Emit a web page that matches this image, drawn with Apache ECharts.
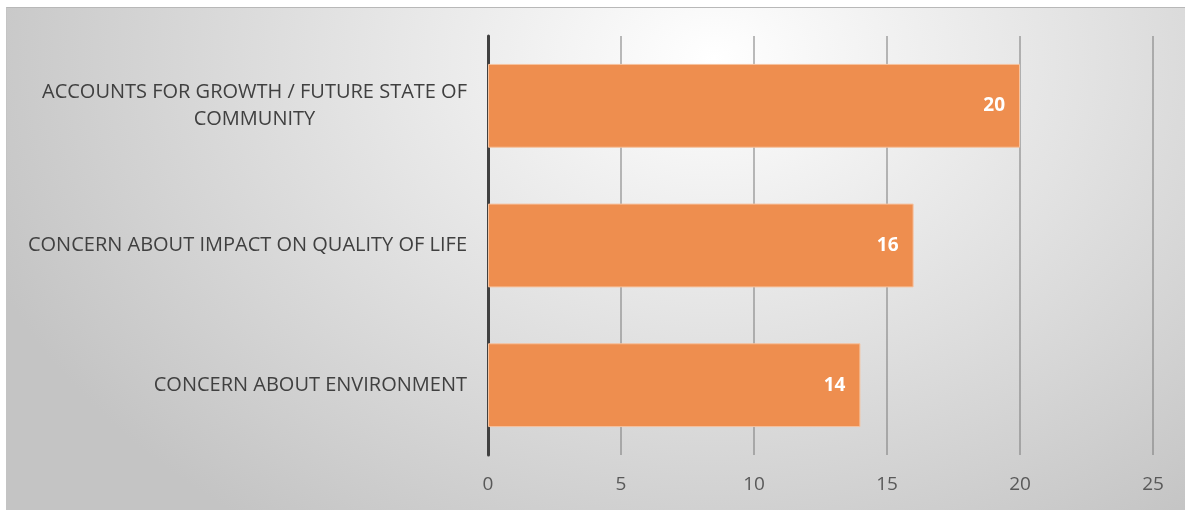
<!DOCTYPE html>
<html>
<head>
<meta charset="utf-8">
<script src="https://cdn.jsdelivr.net/npm/echarts@6/dist/echarts.min.js"></script>
<style>
  html, body { margin: 0; padding: 0; background: #ffffff; width: 1185px; height: 510px; overflow: hidden; }
  #frame {
    position: absolute; left: 6px; top: 7px; width: 1178px; height: 502px;
    border-top: 1px solid #b8b8b8; border-left: 1px solid #c4c4c4;
    background: radial-gradient(ellipse 66% 115% at 60% 10%, #ffffff 0%, #f0f0f0 25%, #c4c4c4 100%);
  }
  #chart { width: 1178px; height: 502px; }
</style>
</head>
<body>
<div id="frame"><div id="chart"></div></div>
<script>
// Reasons given, listed top to bottom
const categories = [
  'ACCOUNTS FOR GROWTH / FUTURE STATE OF\nCOMMUNITY',
  'CONCERN ABOUT IMPACT ON QUALITY OF LIFE',
  'CONCERN ABOUT ENVIRONMENT'
];
const counts = [20, 16, 14];
const axisMax = 25;
const axisStep = 5;

const FONT = 'Open Sans';

const chart = echarts.init(document.getElementById('chart'), null, { renderer: 'canvas' });
chart.setOption({
  backgroundColor: 'transparent',
  animation: false,
  grid: { left: 481, right: 32, top: 28, bottom: 55, containLabel: false },
  xAxis: {
    type: 'value',
    min: 0,
    max: axisMax,
    interval: axisStep,
    axisLine: { show: false },
    axisTick: { show: false },
    axisLabel: { color: '#595959', fontSize: 19, fontFamily: FONT, margin: 20 },
    splitLine: { show: true, lineStyle: { color: 'rgba(120,120,120,0.5)', width: 2 } }
  },
  yAxis: {
    type: 'category',
    data: categories,
    inverse: true,
    axisLine: { show: true, lineStyle: { color: '#404040', width: 3 } },
    axisTick: { show: false },
    axisLabel: {
      color: '#404040',
      fontSize: 20,
      fontFamily: FONT,
      margin: 21,
      lineHeight: 27,
      formatter: function (v) {
        return v.split('\n').map(function (s) { return '{c|' + s + '}'; }).join('\n');
      },
      rich: { c: { align: 'center', color: '#404040', fontSize: 20, fontFamily: FONT, lineHeight: 27 } }
    }
  },
  series: [{
    type: 'bar',
    data: counts,
    barCategoryGap: '40%',
    itemStyle: { color: '#ee8e4f', borderColor: '#f6c29e', borderWidth: 1 },
    label: {
      show: true,
      position: 'insideRight',
      distance: 15,
      color: '#ffffff',
      fontWeight: 'bold',
      fontSize: 19,
      fontFamily: FONT
    }
  }]
});
</script>
</body>
</html>
